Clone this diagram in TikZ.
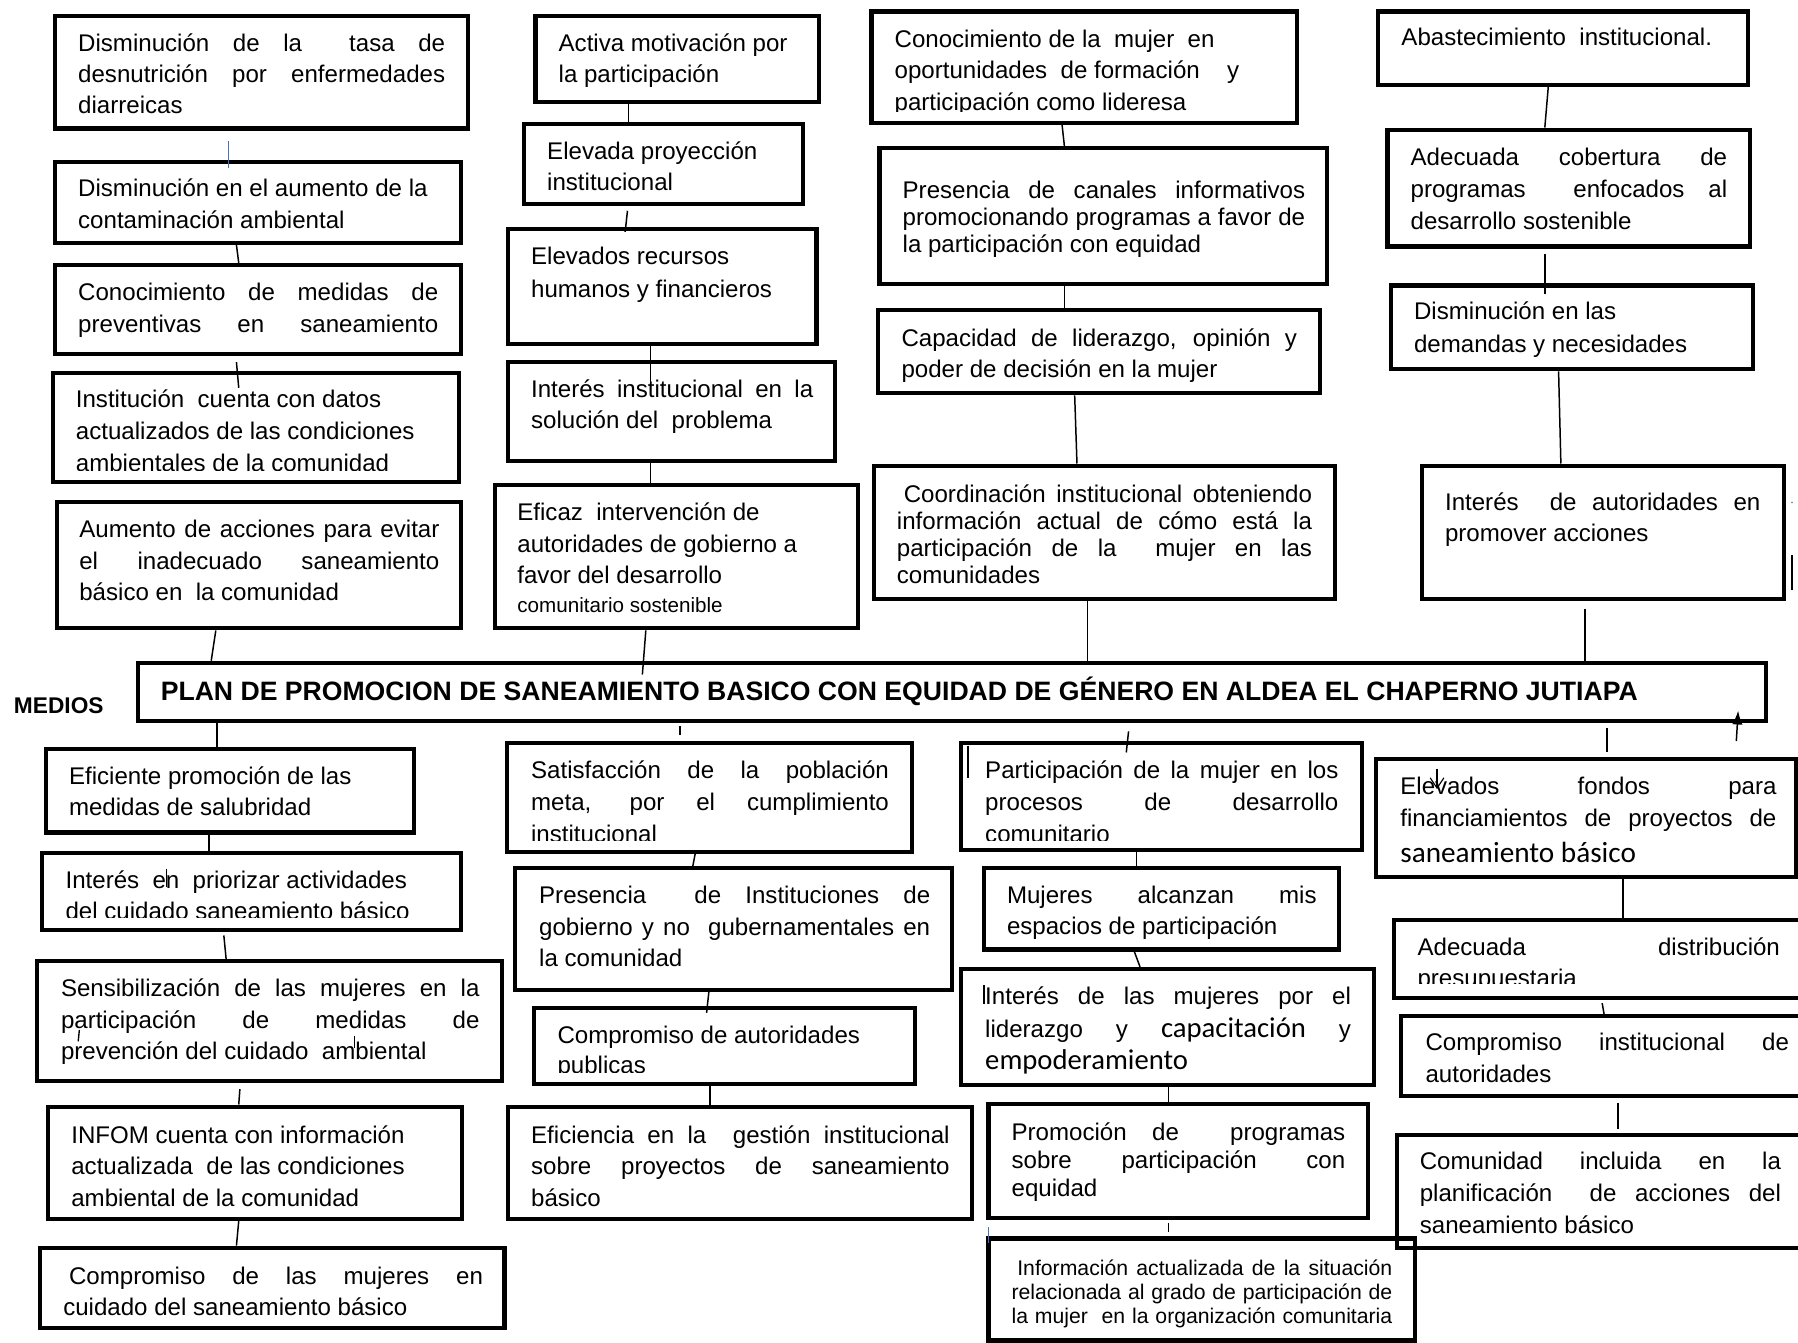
\documentclass[tikz,border=0pt]{standalone}
\usepackage{fontspec}
\setmainfont{Liberation Sans}
\newfontfamily\carl{Carlito}
\usetikzlibrary{fit,calc,arrows.meta}
\definecolor{lblue}{RGB}{68,114,196}
\newcommand\jl[1]{\leavevmode\hbox to \hsize{\spaceskip=0pt\relax\xspaceskip=0pt\relax #1}}
% #1 style, #2 name, #3 x, #4 baseline y, #5 width, #6 clip bottom, #7 text
\newcommand\btext[7][]{%
  \begin{scope}
    \clip (#3-40,#4-60) rectangle (#3+#5+40,#6);
    \node[tx,text width=#5pt,#1] (#2) at (#3,#4) {\spaceskip=0pt\relax\xspaceskip=0pt\relax #7};
  \end{scope}}
\begin{document}
\begin{tikzpicture}[x=1pt,y=-1pt,
  bx/.style={draw=black,line width=3.6pt,inner sep=0pt},
  cn/.style={draw=black,line width=1.3pt},
  cnb/.style={draw=lblue,line width=1.3pt},
  tx/.style={inner sep=0pt,align=left,anchor=base west,font=\fontsize{21}{27.5}\selectfont}]
\fill[white] (0,0) rectangle (1568,1171);
\useasboundingbox (0,0) rectangle (1568,1171);

% ---------- boxes ----------
\node[bx,fit={(48,14)(408,112)}] (A1) {};
\node[bx,fit={(48,141)(402,212)}] (A2) {};
\node[bx,fit={(48,231)(402,309)}] (A3) {};
\node[bx,fit={(46,325)(400,420)}] (A4) {};
\node[bx,fit={(50,438)(402,548)}] (A5) {};
\node[bx,fit={(467,14)(714,89)}] (B1) {};
\node[bx,fit={(457,108)(700,178)}] (B2) {};
\node[bx,fit={(443,200)(712,300)}] (B3) {};
\node[bx,fit={(443,316)(728,402)}] (B4) {};
\node[bx,fit={(432,423)(748,548)}] (B5) {};
\node[bx,fit={(760,10)(1131,107)}] (C1) {};
\node[bx,fit={(767,129)(1157,248)}] (C2) {};
\node[bx,fit={(766,270)(1151,343)}] (C3) {};
\node[bx,fit={(762,406)(1164,522)}] (C4) {};
\node[bx,fit={(1202,10)(1524,74)}] (D1) {};
\node[bx,fit={(1210,113)(1526,215)}] (D2) {};
\node[bx,fit={(1213,249)(1529,322)}] (D3) {};
\node[bx,fit={(1240,406)(1556,522)}] (D4) {};
\node[bx,fit={(120,578)(1540,629)}] (T) {};
\node[bx,fit={(40,653)(361,726)}] (E1) {};
\node[bx,fit={(37,744)(402,811)}] (E2) {};
\node[bx,fit={(32,838)(438,943)}] (E3) {};
\node[bx,fit={(42,965)(403,1063)}] (E4) {};
\node[bx,fit={(35,1088)(440,1158)}] (E5) {};
\node[bx,fit={(442,648)(795,743)}] (F1) {};
\node[bx,fit={(449,757)(830,863)}] (F2) {};
\node[bx,fit={(466,879)(798,945)}] (F3) {};
\node[bx,fit={(443,965)(848,1063)}] (F4) {};
\node[bx,fit={(838,648)(1188,741)}] (G1) {};
\node[bx,fit={(858,757)(1168,828)}] (G2) {};
\node[bx,fit={(838,845)(1198,946)}] (G3) {};
\node[bx,fit={(862,963)(1193,1062)}] (G4) {};
\node[bx,fit={(862,1080)(1234,1169)}] (G5) {};
\node[bx,fit={(1200,662)(1566,765)}] (H1) {};
\node[bx,fit={(1216,802)(1590,870)}] (H2) {};
\node[bx,fit={(1222,886)(1590,956)}] (H3) {};
\node[bx,fit={(1218,990)(1590,1088)}] (H4) {};

% ---------- texts ----------
\btext[font=\fontsize{21}{27}\selectfont]{A1t}{68}{45}{320}{2000}{\jl{Disminución de la~ tasa de}\\ \jl{desnutrición por enfermedades}\\ diarreicas}
\btext[font=\fontsize{21}{28}\selectfont]{A2t}{68}{171}{400}{2000}{Disminución en el aumento de la\\ contaminación ambiental}
\btext[font=\fontsize{21}{28}\selectfont]{A3t}{68}{262}{314}{2000}{\jl{Conocimiento de medidas de}\\ \jl{preventivas en saneamiento}}
\btext[font=\fontsize{21}{28}\selectfont]{A4t}{66}{355}{400}{410}{Institución~ cuenta con datos\\ actualizados de las condiciones\\ ambientales de la comunidad}
\btext{A5t}{69}{469}{314}{2000}{\jl{Aumento de acciones para evitar}\\ \jl{el inadecuado saneamiento}\\ básico en~ la comunidad}

\btext[font=\fontsize{21}{27}\selectfont]{B1t}{487}{45}{300}{2000}{Activa motivación por\\ la participación}
\btext[font=\fontsize{21}{27}\selectfont]{B2t}{477}{139}{300}{2000}{Elevada proyección\\ institucional}
\btext[font=\fontsize{21}{28}\selectfont]{B3t}{463}{231}{300}{2000}{Elevados recursos\\ humanos y financieros}
\btext[font=\fontsize{21}{27}\selectfont]{B4t}{463}{347}{246}{2000}{\jl{Interés institucional en la}\\ solución del~ problema}
\btext{B5t}{451}{454}{300}{2000}{Eficaz~ intervención de\\ autoridades de gobierno a\\ favor del desarrollo\\[-2.5pt] {\fontsize{18}{20}\selectfont comunitario sostenible}}

\btext{C1t}{780}{41}{340}{97}{Conocimiento de la~ mujer~ en\\ oportunidades~ de formación\hspace{18pt} y\\ participación como lideresa}
\btext[font=\fontsize{21}{23.5}\selectfont]{C2t}{787}{173}{351}{2000}{\jl{Presencia de canales informativos}\\ \jl{promocionando programas a favor de}\\ la participación con equidad}
\btext[font=\fontsize{21}{27}\selectfont]{C3t}{786}{302}{345}{2000}{\jl{Capacidad de liderazgo, opinión y}\\ poder de decisión en la mujer}
\btext[font=\fontsize{21}{23.7}\selectfont]{C4t}{782}{438}{362}{2000}{\jl{\hspace{6pt}Coordinación institucional obteniendo}\\ \jl{información actual de cómo está la}\\ \jl{participación de la~ mujer en las}\\ comunidades}

\btext{D1t}{1222}{40}{300}{2000}{Abastecimiento~ institucional.}
\btext[font=\fontsize{21}{28}\selectfont]{D2t}{1230}{144}{276}{2000}{\jl{Adecuada cobertura de}\\ \jl{programas~ enfocados al}\\ desarrollo sostenible}
\btext[font=\fontsize{21}{28}\selectfont]{D3t}{1233}{279}{290}{2000}{Disminución en las\\ demandas y necesidades}
\btext[font=\fontsize{21}{27}\selectfont]{D4t}{1260}{445}{275}{2000}{\jl{Interés~ de autoridades en}\\ promover acciones}

\node[inner sep=0pt,anchor=base west,font=\bfseries\fontsize{23.2}{28}\selectfont] (Tt) at (140,611) {PLAN DE PROMOCION DE SANEAMIENTO BASICO CON EQUIDAD DE GÉNERO EN ALDEA EL CHAPERNO JUTIAPA};
\node[inner sep=0pt,anchor=base west,font=\bfseries\fontsize{19.8}{22}\selectfont] (med) at (12,622) {MEDIOS};

\btext[font=\fontsize{21}{27}\selectfont]{E1t}{60}{684}{320}{2000}{Eficiente promoción de las\\ medidas de salubridad}
\btext[font=\fontsize{21}{27}\selectfont]{E2t}{57}{775}{360}{800}{Interés~ en~ priorizar actividades\\ del cuidado saneamiento básico}
\btext{E3t}{53}{869}{365}{2000}{\jl{Sensibilización de las mujeres en la}\\ \jl{participación de medidas de}\\ prevención del cuidado~ ambiental}
\btext{E4t}{62}{997}{360}{2000}{INFOM cuenta con información\\ actualizada~ de las condiciones\\ ambiental de la comunidad}
\btext[font=\fontsize{21}{27}\selectfont]{E5t}{55}{1120}{366}{2000}{\jl{\hspace{5pt}Compromiso de las mujeres en}\\ cuidado del saneamiento básico}

\btext[font=\fontsize{21}{28}\selectfont]{F1t}{463}{679}{312}{733}{\jl{Satisfacción de la población}\\ \jl{meta, por el cumplimiento}\\ institucional}
\btext{F2t}{470}{788}{341}{2000}{\jl{Presencia~ de Instituciones de}\\ \jl{gobierno y no~ gubernamentales en}\\ la comunidad}
\btext[font=\fontsize{21}{26}\selectfont]{F3t}{486}{910}{320}{935}{Compromiso de autoridades\\ publicas}
\btext{F4t}{463}{997}{365}{2000}{\jl{Eficiencia en la~ gestión institucional}\\ \jl{sobre proyectos de saneamiento}\\ básico}

\btext[font=\fontsize{21}{28}\selectfont]{G1t}{859}{679}{308}{733}{\jl{Participación de la mujer en los}\\ \jl{procesos de desarrollo}\\ comunitario}
\btext[font=\fontsize{21}{27}\selectfont]{G2t}{878}{788}{270}{2000}{\jl{Mujeres alcanzan mis}\\ espacios de participación}
\btext[font=\fontsize{21}{28.5}\selectfont]{G3t}{859}{876}{319}{940}{\jl{Interés de las mujeres por el}\\ \jl{liderazgo y {\carl\fontsize{25}{28.5}\selectfont capacitación} y}\\ {\carl\fontsize{25}{28.5}\selectfont empoderamiento}}
\btext[font=\fontsize{21}{24}\selectfont]{G4t}{882}{995}{291}{2000}{\jl{Promoción de~ programas}\\ \jl{sobre participación con}\\ equidad}
\btext[font=\fontsize{18.5}{21}\selectfont]{G5t}{882}{1112}{332}{2000}{\jl{\hspace{5pt}Información actualizada de la situación}\\ \jl{relacionada al grado de participación de}\\ \jl{la mujer~ en la organización comunitaria}}

\btext[font=\fontsize{21}{28}\selectfont]{H1t}{1221}{693}{328}{2000}{\jl{Elevados fondos para}\\ \jl{financiamientos de proyectos de}\\[3pt] {\carl\fontsize{25.5}{28}\selectfont saneamiento básico}}
\btext[font=\fontsize{21}{27}\selectfont]{H2t}{1236}{833}{316}{858}{\jl{Adecuada distribución}\\ presupuestaria}
\btext[font=\fontsize{21}{28}\selectfont]{H3t}{1243}{916}{317}{2000}{\jl{Compromiso institucional de}\\ autoridades}
\btext[font=\fontsize{21}{28}\selectfont]{H4t}{1238}{1020}{315}{2000}{\jl{Comunidad incluida en la}\\ \jl{planificación~ de acciones del}\\ saneamiento básico}

% ---------- connectors ----------
\draw[cnb] ($(A1.south west)+(153,9)$) -- ($(A2.north west)+(153,7)$);
\draw[cn] ($(A2.south west)+(160,0)$) -- ($(A3.north west)+(162,0)$);
\draw[cn] ($(A3.south west)+(160,5)$) -- ($(A4.north west)+(164,15)$);
\draw[cn] ($(A5.south west)+(140,0)$) -- ($(T.north west)+(66,0)$);
\draw[cn] ($(B1.south west)+(83,0)$) -- ($(B2.north west)+(93,0)$);
\draw[cn] ($(B2.south west)+(92,4)$) -- ($(B3.north west)+(104,4)$);
\draw[cn] ($(B3.south west)+(126,0)$) -- ($(B4.north west)+(126,20)$);
\draw[cn] ($(B4.south west)+(126,0)$) -- ($(B5.north west)+(137,0)$);
\draw[cn] ($(B5.south west)+(133,0)$) -- ($(T.north west)+(442,12)$);
\draw[cn] ($(C1.south west)+(168,0)$) -- ($(C2.north west)+(163,0)$);
\draw[cn] ($(C2.south west)+(163,0)$) -- ($(C3.north west)+(164,0)$);
\draw[cn] ($(C3.south west)+(173,0)$) -- ($(C4.north west)+(179,0)$);
\draw[cn] ($(C4.south west)+(188,0)$) -- ($(T.north west)+(830,0)$);
\draw[cn] ($(D1.south west)+(150,0)$) -- ($(D2.north west)+(139,0)$);
\draw[cn] ($(D2.south west)+(139,5)$) -- ($(D3.north west)+(136,9)$);
\draw[cn] ($(D3.south west)+(148,0)$) -- ($(D4.north west)+(123,0)$);
\draw[cn] ($(D4.south west)+(144,7)$) -- ($(T.north west)+(1264,0)$);
\draw[cn] ($(T.south west)+(71,0)$) -- ($(E1.north west)+(151,0)$);
\draw[cn] ($(E1.south west)+(144,0)$) -- ($(E2.north west)+(147,2)$);
\draw[cn] ($(E2.south west)+(160,3)$) -- ($(E3.north west)+(167,0)$);
\draw[cn] ($(E3.south west)+(179,5)$) -- ($(E4.north west)+(168,0)$);
\draw[cn] ($(E4.south west)+(168,0)$) -- ($(E5.north west)+(173,0)$);
\draw[cn] ($(T.south west)+(475,2)$) -- ($(F1.north west)+(153,-5)$);
\draw[cn] ($(F1.south west)+(166,0)$) -- ($(F2.north west)+(157,0)$);
\draw[cn] ($(F2.south west)+(171,0)$) -- ($(F3.north west)+(152,6)$);
\draw[cn] ($(F3.south west)+(155,0)$) -- ($(F4.north west)+(178,0)$);
\draw[cn] ($(T.south west)+(866,7)$) -- ($(G1.north west)+(146,10)$);
\draw[cn] ($(G1.south west)+(155,0)$) -- ($(G2.north west)+(135,0)$);
\draw[cn] ($(G2.south west)+(133,0)$) -- ($(G3.north west)+(158,0)$);
\draw[cn] ($(G3.south west)+(183,0)$) -- ($(G4.north west)+(159,0)$);
\draw[cn] ($(G4.south west)+(159,3)$) -- ($(G5.north west)+(159,-4)$);
\draw[cn] ($(T.south west)+(1283,4)$) -- ($(H1.north west)+(203,-4)$);
\draw[cn] ($(H1.south west)+(217,0)$) -- ($(H2.north west)+(201,0)$);
\draw[cn] ($(H2.south west)+(183,3)$) -- ($(H3.north west)+(179,2)$);
\draw[cn] ($(H3.south west)+(191,4)$) -- ($(H4.north west)+(195,-4)$);
\draw[cn,-{Latex[length=12pt,width=9pt]}] ($(H1.north west)+(316,-14)$) -- ($(T.south east)+(-26,-11)$);
\draw[line width=1pt,-{Straight Barb[length=9pt,width=12pt]}] ($(H1.north west)+(55,10)$) -- ($(H1.north west)+(55,28)$);

% ---------- stray marks ----------
\draw[line width=1.2pt] ($(E2.north west)+(110,16)$) -- +(0,15);
\draw[line width=1.2pt] ($(E3.north west)+(39,62)$) -- +(-1,10);
\draw[line width=1.2pt] ($(E3.north west)+(279,67)$) -- +(0,11);
\draw[line width=1.2pt] ($(G1.north west)+(8,4)$) -- +(0,28);
\draw[line width=1.2pt] ($(G3.north west)+(22,16)$) -- +(0,16);
\draw[line width=1.6pt] ($(D4.north east)+(5,80)$) -- +(0,30);
\draw[cnb,line width=1pt] ($(G5.north west)+(2,-8)$) -- +(0,14);
\fill[lblue] ($(D4.north east)+(5,34)$) circle (0.8);
\end{tikzpicture}
\end{document}
